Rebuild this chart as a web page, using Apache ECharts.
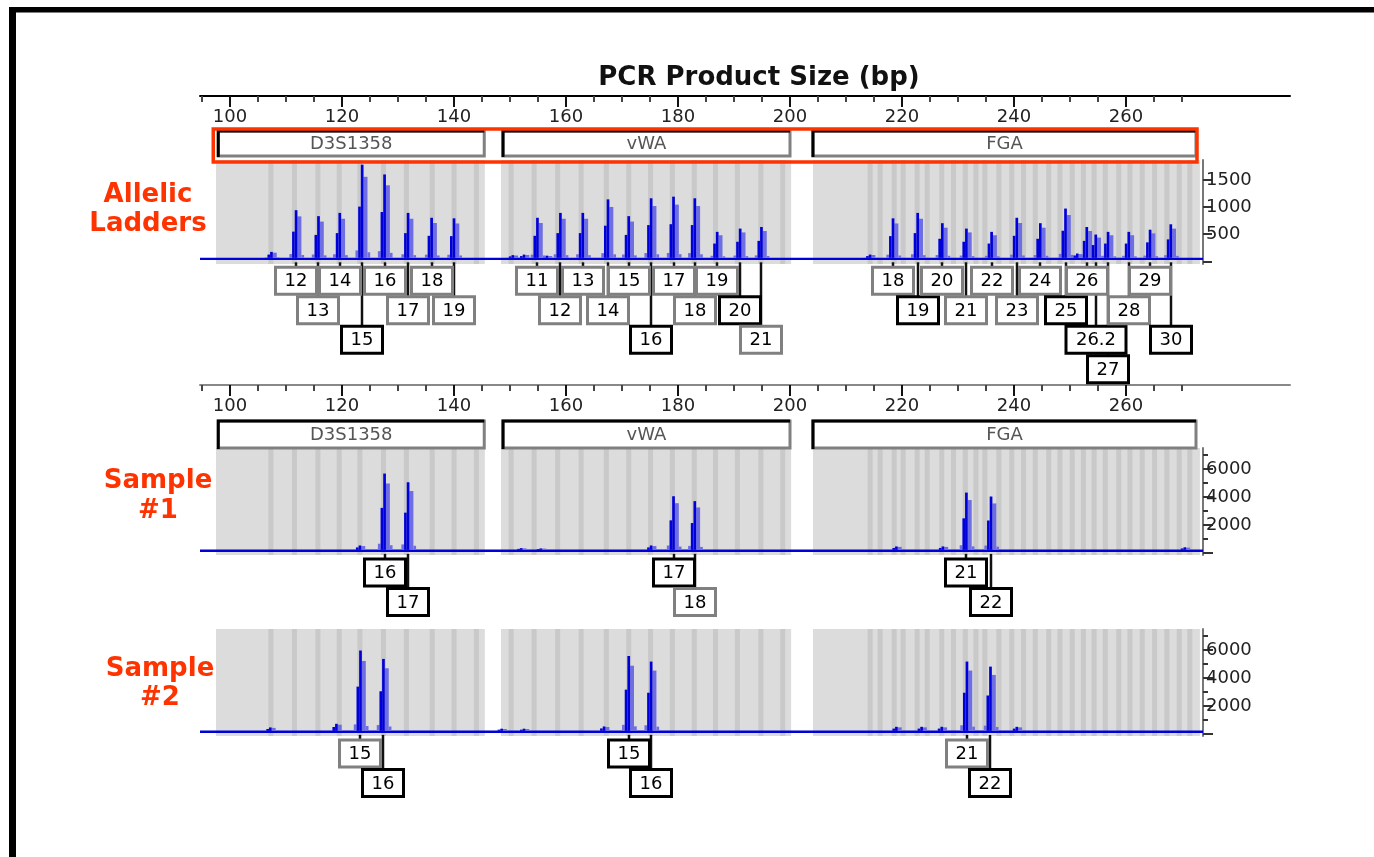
<!DOCTYPE html>
<html><head><meta charset="utf-8">
<script src="https://cdn.jsdelivr.net/npm/echarts@6/dist/echarts.min.js"></script>
<style>html,body{margin:0;padding:0;background:#fff;}#c{width:1374px;height:857px;}</style>
</head><body><div id="c"></div>
<script>
// ---------- data ----------
const bpMajorTicks = [100,120,140,160,180,200,220,240,260];
const bpMinorTicks = [95,100,105,110,115,120,125,130,135,140,145,150,155,160,165,170,175,180,185,190,195,200,205,210,215,220,225,230,235,240,245,250,255,260,265,270];
const ladderYTicks = [0,500,1000,1500];
const ladderYLabels = [500,1000,1500];
const sampleYMajor = [0,2000,4000,6000];
const sampleYMinor = [1000,3000,5000,7000];
const sampleYLabels = [2000,4000,6000];

const loci = ['D3S1358','vWA','FGA'];
const lociStart = [97.9,148.75,204.1];
const lociEnd = [145.4,200.0,272.5];
const binRegionStart = [97.5,148.4,204.1];
const binRegionEnd = [145.5,200.2,273.2];
const binCenters = [107.3,111.5,115.7,119.5,123.2,127.4,131.5,136.1,140.0,144.0,
  150.2,154.3,158.5,162.7,167.2,171.2,175.1,179.0,182.9,186.7,190.6,194.8,198.7,
  214.3,216.1,218.6,220.2,222.7,224.5,227.1,229.2,231.3,233.2,234.8,237.3,239.6,241.7,243.8,246.2,248.2,250.4,252.4,254.3,256.3,258.7,260.7,262.9,265.1,267.3,269.5,271.4];

const ladderBaseline = 45;
const ladderAlleles = ['12','13','14','15','16','17','18','19',
  '11','12','13','14','15','16','17','18','19','20','21',
  '18','19','20','21','22','23','24','25','26','26.2','27','28','29','30'];
const ladderSizes = [111.8,115.8,119.6,123.6,127.6,131.8,136.0,140.0,
  154.9,159.0,163.0,167.5,171.2,175.2,179.2,183.0,187.0,191.1,194.9,
  218.4,222.8,227.2,231.5,236.0,240.5,244.7,249.2,253.0,254.6,256.8,260.5,264.3,268.0];
const ladderHeights = [880,770,830,1720,1540,830,740,730,
  740,830,830,1080,770,1100,1130,1100,480,540,570,
  730,830,640,540,480,740,640,910,570,430,480,480,520,620];
const ladderTiers = [0,1,0,2,0,1,0,1, 0,1,0,1,0,2,0,1,0,1,2, 0,1,0,1,0,1,0,1,0,2,3,1,0,2];
const ladderNoiseSizes = [107.4,150.5,152.5,156.6,214.3,251.3];
const ladderNoiseHeights = [110,50,60,40,60,80];

const sampleBaseline = 150;
const sample1Alleles = ['16','17','17','18','21','22'];
const sample1Sizes = [127.6,131.8,179.2,183.0,231.5,235.9];
const sample1Heights = [5450,4830,3830,3480,4090,3810];
const sample1Tiers = [0,1,0,1,0,1];
const sample1NoiseSizes = [123.2,152.0,155.5,175.2,219.0,227.3,270.5];
const sample1NoiseHeights = [310,120,100,310,240,240,180];

const sample2Alleles = ['15','16','15','16','21','22'];
const sample2Sizes = [123.3,127.4,171.2,175.2,231.6,235.8];
const sample2Heights = [5740,5140,5350,4950,4950,4590];
const sample2Tiers = [0,1,0,1,0,1];
const sample2NoiseSizes = [107.2,119.0,148.5,152.5,166.8,219.0,223.5,227.1,240.5];
const sample2NoiseHeights = [240,500,150,150,310,285,285,285,285];

// ---------- styles (kept apart from data) ----------
const ladderDarkBox = [0,0,0,1,0,0,0,0, 0,0,0,0,0,1,0,0,0,1,0, 0,1,0,0,0,0,0,1,0,1,1,0,0,1];
const sample1DarkBox = [1,1,1,0,1,1];
const sample2DarkBox = [0,1,1,1,0,1];
const FONT = '"DejaVu Sans"';
const AX_MIN = 94.64, AX_MAX = 289.3, P_MAX = 273.75;
const DARK = '#0000d8', LIGHT = '#6e6ee2';

// ---------- renderers ----------
function renderBand(params, api){
  const cs = params.coordSys;
  const a = api.coord([api.value(0), 0])[0], b = api.coord([api.value(1), 0])[0];
  const kind = api.value(2);
  return {type:'rect', shape:{x:a, y:cs.y, width:b-a, height:cs.height},
    style:{fill: kind ? '#c9c9c9' : '#dcdcdc'}};
}
function makePeakRenderer(baseVal){
  return function(params, api){
    const base = api.coord([api.value(0), baseVal]);
    const top = api.coord([api.value(0), baseVal + api.value(1)]);
    const H = base[1]-top[1], x = base[0], y = base[1] - 1;
    const col = (x0, x1, f, c) => ({type:'rect', shape:{x:x+x0, y:y-f*H, width:x1-x0, height:f*H}, style:{fill:c}});
    return {type:'group', children:[
      col(-6.7,-4.0,0.08,LIGHT),
      col(-4.0,-1.35,0.55,DARK),
      col(1.35,5.3,0.87,LIGHT),
      col(5.3,8.0,0.06,LIGHT),
      col(-1.35,1.35,1.0,DARK)
    ]};
  };
}
function makeLabelRenderer(alleles, dark){
  return function(params, api){
    const i = params.dataIndex;
    const base = api.coord([api.value(0), 0]);
    const x = Math.round(base[0]);
    const top = base[1] + 6 + api.value(1)*29.5;
    const txt = alleles[i];
    const w = 22 + txt.length*9.5;
    const col = dark[i] ? '#000' : '#808080';
    return {type:'group', children:[
      {type:'line', z2:1, shape:{x1:x, y1:base[1]+1, x2:x, y2:top}, style:{stroke:'#111', lineWidth:2.5}},
      {type:'rect', z2:10, shape:{x:x-w/2, y:top, width:w, height:27}, style:{fill:'#fff', stroke:col, lineWidth:3}},
      {type:'text', z2:11, style:{text:txt, x:x, y:top+14.5, align:'center', textAlign:'center', verticalAlign:'middle', textVerticalAlign:'middle', font:'18px '+FONT, fill:'#000'}}
    ]};
  };
}
function makeLocusRenderer(offTop, offBottom){
  return function(params, api){
    const cs = params.coordSys;
    const a = api.coord([api.value(0),0])[0], b = api.coord([api.value(1),0])[0];
    const y0 = cs.y + offTop, y1 = cs.y + offBottom;
    return {type:'group', children:[
      {type:'rect', shape:{x:a, y:y0, width:b-a, height:y1-y0}, style:{fill:'#fff', stroke:'#808080', lineWidth:3}},
      {type:'polyline', shape:{points:[[a,y1+1],[a,y0],[b,y0]]}, style:{stroke:'#000', lineWidth:3, fill:null}},
      {type:'text', style:{text:loci[params.dataIndex], x:(a+b)/2, y:(y0+y1)/2+1, align:'center', textAlign:'center', verticalAlign:'middle', textVerticalAlign:'middle', font:'18px '+FONT, fill:'#555'}}
    ]};
  };
}
function renderRedBox(params, api){
  const cs = params.coordSys;
  const a = api.coord([api.value(0),0])[0] - 5, b = api.coord([api.value(1),0])[0] + 1;
  return {type:'rect', shape:{x:a, y:cs.y-31, width:b-a, height:33}, style:{fill:null, stroke:'#ff3300', lineWidth:3.5}};
}

// ---------- builders ----------
const bandData = [];
loci.forEach((l,i)=>bandData.push([binRegionStart[i], binRegionEnd[i], 0]));
binCenters.forEach(c=>bandData.push([c-0.45, c+0.45, 1]));
function peakData(s,h,ns,nh){ return ns.map((v,i)=>[v,nh[i]]).concat(s.map((v,i)=>[v,h[i]])); }
const lociData = loci.map((l,i)=>[lociStart[i], lociEnd[i]]);

function panelSeries(xi, yi, baseVal, sizes, heights, nSizes, nHeights, alleles, tiers, dark){
  return [
    {type:'custom', xAxisIndex:xi, yAxisIndex:yi, z:1, silent:true, renderItem:renderBand, data:bandData},
    {type:'line', xAxisIndex:xi, yAxisIndex:yi, z:2, silent:true, showSymbol:false, lineStyle:{color:DARK, width:2.4}, data:[[AX_MIN,baseVal],[P_MAX,baseVal]]},
    {type:'custom', xAxisIndex:xi, yAxisIndex:yi, z:3, silent:true, renderItem:makePeakRenderer(baseVal), data:peakData(sizes,heights,nSizes,nHeights)},
    {type:'custom', xAxisIndex:xi, yAxisIndex:yi, z:4, silent:true, renderItem:makeLabelRenderer(alleles,dark), data:sizes.map((s,i)=>[s,tiers[i]])}
  ];
}

function bpAxisPair(grid, lineColor){
  return [
    {type:'value', gridIndex:grid, position:'bottom', min:AX_MIN, max:AX_MAX,
      axisLine:{show:true, lineStyle:{color:lineColor, width:2}},
      axisTick:{show:true, customValues:bpMinorTicks, length:6, lineStyle:{color:'#444', width:2}},
      axisLabel:{show:false}, splitLine:{show:false}},
    {type:'value', gridIndex:grid, position:'bottom', min:AX_MIN, max:AX_MAX,
      axisLine:{show:false},
      axisTick:{show:true, customValues:bpMajorTicks, length:11, lineStyle:{color:'#111', width:2}},
      axisLabel:{show:true, customValues:bpMajorTicks, margin:12, fontFamily:'DejaVu Sans', fontSize:18, color:'#222'},
      splitLine:{show:false}}
  ];
}
function hiddenX(grid){ return {type:'value', gridIndex:grid, min:AX_MIN, max:P_MAX, show:false}; }

const plain = v => String(v);
const yLabel = vals => ({show:true, customValues:vals, margin:3, fontFamily:'DejaVu Sans', fontSize:18, color:'#222', formatter:plain});
const yAxisStyle = {axisLine:{show:true, lineStyle:{color:'#777', width:2}}, splitLine:{show:false}};
const yAxes = [
  {type:'value', gridIndex:0, show:false, min:0, max:1},
  Object.assign({type:'value', gridIndex:1, position:'right', min:-50, max:1870,
    axisTick:{show:true, customValues:ladderYTicks, length:9, lineStyle:{color:'#333', width:2}},
    axisLabel:yLabel(ladderYLabels)}, yAxisStyle),
  {type:'value', gridIndex:2, show:false, min:0, max:1},
  Object.assign({type:'value', gridIndex:3, position:'right', min:-150, max:7500,
    axisTick:{show:true, customValues:sampleYMinor, length:5, lineStyle:{color:'#333', width:2}},
    axisLabel:{show:false}}, yAxisStyle),
  {type:'value', gridIndex:3, position:'right', min:-150, max:7500, axisLine:{show:false}, splitLine:{show:false},
    axisTick:{show:true, customValues:sampleYMajor, length:10, lineStyle:{color:'#333', width:2}},
    axisLabel:yLabel(sampleYLabels)},
  Object.assign({type:'value', gridIndex:4, position:'right', min:-150, max:7500,
    axisTick:{show:true, customValues:sampleYMinor, length:5, lineStyle:{color:'#333', width:2}},
    axisLabel:{show:false}}, yAxisStyle),
  {type:'value', gridIndex:4, position:'right', min:-150, max:7500, axisLine:{show:false}, splitLine:{show:false},
    axisTick:{show:true, customValues:sampleYMajor, length:10, lineStyle:{color:'#333', width:2}},
    axisLabel:yLabel(sampleYLabels)}
];

const xAxes = [].concat(bpAxisPair(0,'#000'), [hiddenX(1)], bpAxisPair(2,'#888'), [hiddenX(3), hiddenX(4)]);

let series = [];
series = series.concat(panelSeries(2,1, ladderBaseline, ladderSizes, ladderHeights, ladderNoiseSizes, ladderNoiseHeights, ladderAlleles, ladderTiers, ladderDarkBox));
series = series.concat(panelSeries(5,4, sampleBaseline, sample1Sizes, sample1Heights, sample1NoiseSizes, sample1NoiseHeights, sample1Alleles, sample1Tiers, sample1DarkBox));
series = series.concat(panelSeries(6,6, sampleBaseline, sample2Sizes, sample2Heights, sample2NoiseSizes, sample2NoiseHeights, sample2Alleles, sample2Tiers, sample2DarkBox));
series.push({type:'custom', xAxisIndex:2, yAxisIndex:1, z:5, silent:true, renderItem:makeLocusRenderer(-29,-4), data:lociData});
series.push({type:'custom', xAxisIndex:2, yAxisIndex:1, z:6, silent:true, renderItem:renderRedBox, data:[[lociStart[0], lociEnd[2]]]});
series.push({type:'custom', xAxisIndex:5, yAxisIndex:4, z:5, silent:true, renderItem:makeLocusRenderer(-27,0), data:lociData});

const sideLabel = (t,x,y)=>({type:'text', x:x, y:y, style:{text:t, font:'bold 26px '+FONT, fill:'#ff3300', align:'center', textAlign:'center', verticalAlign:'middle', textVerticalAlign:'middle'}});

const chart = echarts.init(document.getElementById('c'), null, {renderer:'canvas'});
chart.setOption({
  animation:false,
  backgroundColor:'#fff',
  title:{text:'PCR Product Size (bp)', left:754, top:60, textAlign:'center',
    textStyle:{fontFamily:'DejaVu Sans', fontSize:26, fontWeight:'bold', color:'#111'}},
  grid:[
    {left:200, width:1090, top:80, height:16},
    {left:200, width:1003, top:160, height:104},
    {left:200, width:1090, top:369, height:16},
    {left:200, width:1003, top:448, height:107},
    {left:200, width:1003, top:629, height:107}
  ],
  xAxis:xAxes,
  yAxis:yAxes,
  series:series,
  graphic:[
    {type:'rect', shape:{x:9, y:7, width:1365, height:5.5}, style:{fill:'#000'}},
    {type:'rect', shape:{x:9, y:7, width:7, height:850}, style:{fill:'#000'}},
    sideLabel('Allelic',148,195), sideLabel('Ladders',148,224),
    sideLabel('Sample',158,481), sideLabel('#1',158,511),
    sideLabel('Sample',160,669), sideLabel('#2',160,698)
  ]
});
</script></body></html>
